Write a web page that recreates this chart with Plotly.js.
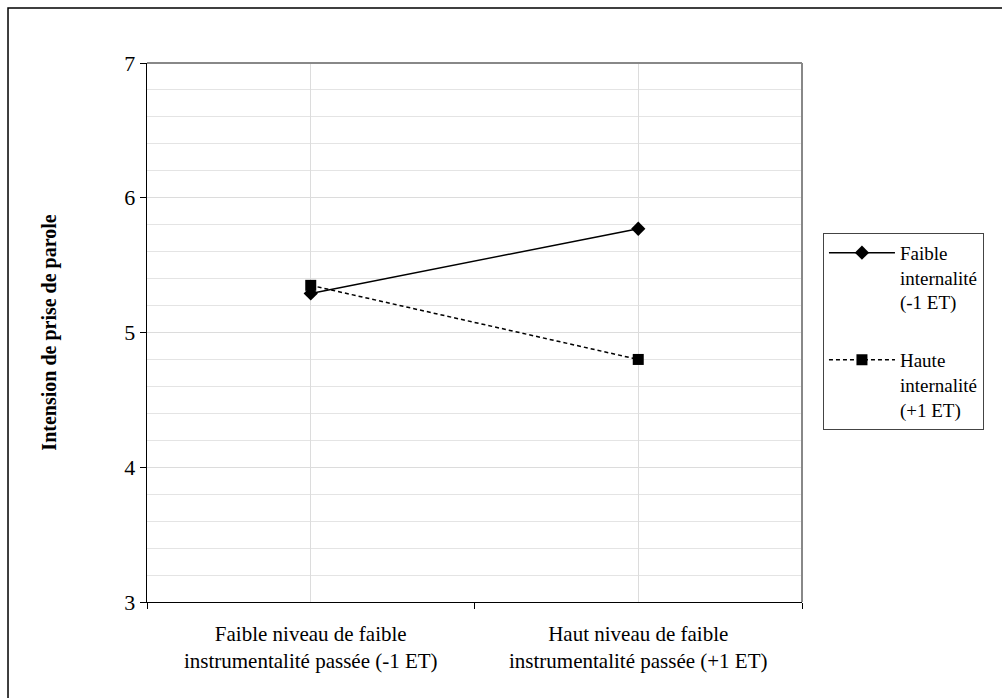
<!DOCTYPE html>
<html>
<head>
<meta charset="utf-8">
<script src="https://cdn.plot.ly/plotly-3.0.1.min.js"></script>
<style>html,body{margin:0;padding:0;background:#fff;}#chart{width:1002px;height:698px;}</style>
</head>
<body>
<div id="chart"></div>
<script>
var categories = ["Faible niveau de faible<br>instrumentalité passée (-1 ET)", "Haut niveau de faible<br>instrumentalité passée (+1 ET)"];
var seriesNames = ["Faible<br>internalité<br>(-1 ET)", "Haute<br>internalité<br>(+1 ET)"];
var faibleInternalite = [5.29, 5.77];
var hauteInternalite = [5.35, 4.80];
var yTitle = "Intension de prise de parole";

var font = "Times New Roman";

var traces = [
  {
    x: categories, y: faibleInternalite, name: seriesNames[0], type: "scatter", mode: "lines+markers",
    legendgroup: "g1",
    line: {color: "#000", width: 1.5},
    marker: {symbol: "diamond", size: 11, color: "#000"}
  },
  {
    x: categories, y: hauteInternalite, name: seriesNames[1], type: "scatter", mode: "lines+markers",
    legendgroup: "g2",
    line: {color: "#000", width: 1.5, dash: "4px,3px"},
    marker: {symbol: "square", size: 11, color: "#000"}
  },
  {
    x: [0, 1], y: [null, null], xaxis: "x2", yaxis: "y", showlegend: false, hoverinfo: "skip", mode: "lines"
  }
];

var layout = {
  width: 1002, height: 698,
  margin: {l: 147, r: 200, t: 63, b: 96},
  paper_bgcolor: "#fff", plot_bgcolor: "#fff",
  font: {family: font, color: "#000", size: 20},
  showlegend: true,
  xaxis: {
    type: "category",
    range: [-0.5, 1.5],
    showgrid: true, gridcolor: "#dcdcdc", gridwidth: 1,
    ticks: "", showline: true, linecolor: "#000", linewidth: 1.3,
    tickfont: {family: font, size: 21, color: "#000"},
    ticklabelstandoff: 12,
    zeroline: false, fixedrange: true
  },
  xaxis2: {
    overlaying: "x", anchor: "y", side: "bottom",
    type: "linear", range: [-0.5, 1.5],
    tickvals: [-0.5, 0.5, 1.5], ticks: "outside", ticklen: 6, tickcolor: "#000", tickwidth: 1,
    showticklabels: false, showgrid: false, zeroline: false, showline: false
  },
  yaxis: {
    range: [3, 7], dtick: 1,
    showgrid: true, gridcolor: "#dcdcdc", gridwidth: 1,
    minor: {dtick: 0.2, showgrid: true, gridcolor: "#e4e4e4", gridwidth: 1, ticks: ""},
    ticks: "outside", ticklen: 6, tickcolor: "#000",
    showline: true, linecolor: "#000", linewidth: 1.3,
    zeroline: false,
    tickfont: {family: font, size: 22, color: "#000"},
    title: {text: "<b>" + yTitle + "</b>", font: {family: font, size: 20, color: "#000"}, standoff: 62}
  },
  legend: {
    x: 1.032, xanchor: "left", y: 0.685, yanchor: "top",
    bordercolor: "#444", borderwidth: 1, bgcolor: "#fff",
    font: {family: font, size: 19, color: "#000"},
    valign: "top", tracegroupgap: 30, itemwidth: 66
  },
  shapes: [
    {type: "line", xref: "paper", yref: "paper", x0: 0, x1: 1, y0: 1, y1: 1, line: {color: "#888", width: 2}},
    {type: "line", xref: "paper", yref: "paper", x0: 1, x1: 1, y0: 0, y1: 1, line: {color: "#888", width: 2}},
    {type: "rect", xref: "paper", yref: "paper", x0: -0.2122, x1: 1.5, y0: -0.3, y1: 1.102, line: {color: "#000", width: 1.5}, fillcolor: "rgba(0,0,0,0)", layer: "below"}
  ]
};

Plotly.newPlot("chart", traces, layout, {staticPlot: true, displayModeBar: false});
</script>
</body>
</html>
